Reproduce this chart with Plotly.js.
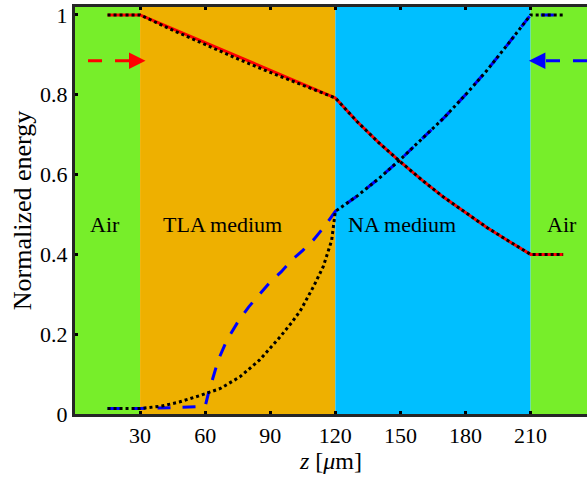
<!DOCTYPE html>
<html>
<head>
<meta charset="utf-8">
<script src="https://cdn.plot.ly/plotly-3.0.1.min.js"></script>
<style>html,body{margin:0;padding:0;background:#fff;}#chart{width:587px;height:479px;}</style>
</head>
<body>
<div id="chart"></div>
<script>
// ---- Data ----
// Media regions
var regionStart = [0, 30, 120, 210];
var regionEnd   = [30, 120, 210, 236];
var regionColor = ['#77EE2A', '#EEB000', '#00BFFF', '#77EE2A'];
var regionLabel = ['Air', 'TLA medium', 'NA medium', 'Air'];
var regionLabelZ = [13.8, 68, 150.5, 224.3];
var regionLabelY = [0.476, 0.476, 0.476, 0.476];

// Forward wave (red solid, simulation)
var zFwdSim = [15, 30, 60, 90, 120, 130, 140, 150, 160, 170, 180, 190, 200, 210, 225];
var eFwdSim = [1.0, 1.0, 0.931, 0.861, 0.792, 0.733, 0.68, 0.632, 0.586, 0.543, 0.505, 0.467, 0.433, 0.40, 0.40];

// Forward wave (black dotted, theory)
var zFwdTh = [15, 30, 45, 60, 75, 90, 105, 120, 130, 140, 150, 160, 170, 180, 190, 200, 210, 225];
var eFwdTh = [1.0, 1.0, 0.962, 0.925, 0.89, 0.856, 0.823, 0.792, 0.733, 0.68, 0.632, 0.586, 0.543, 0.505, 0.467, 0.433, 0.40, 0.40];

// Backward wave (blue dashed, simulation)
var zBwdSim = [15, 30, 45, 60, 61.4, 66, 70, 75, 80, 85, 90, 95, 100, 105, 110, 115, 120, 130, 140, 150, 160, 170, 180, 190, 200, 210, 225];
var eBwdSim = [0.014, 0.014, 0.016, 0.019, 0.05, 0.135, 0.185, 0.23, 0.268, 0.3, 0.331, 0.356, 0.386, 0.41, 0.437, 0.47, 0.508, 0.546, 0.59, 0.638, 0.69, 0.742, 0.8, 0.862, 0.93, 1.0, 1.0];

// Backward wave (black dotted, theory)
var zBwdTh = [15, 30, 40, 48, 58, 67, 76, 85, 94.5, 100, 104, 110, 114.4, 118.3, 120, 130, 140, 150, 160, 170, 180, 190, 200, 210, 225];
var eBwdTh = [0.0135, 0.0135, 0.02, 0.03, 0.047, 0.064, 0.093, 0.135, 0.193, 0.23, 0.26, 0.32, 0.369, 0.435, 0.508, 0.546, 0.59, 0.638, 0.69, 0.742, 0.8, 0.862, 0.93, 1.0, 1.0];

// Direction arrows
var arrowY = 0.885;
var arrowFwdLineZ = [6, 25];
var arrowFwdTipZ = 32.5, arrowFwdTailZ = 28;
var arrowBwdLineZ = [217.1, 240];
var arrowBwdTipZ = 209.2, arrowBwdTailZ = 214;

var xTicks = [30, 60, 90, 120, 150, 180, 210];

// ---- Build ----
var FONT = 'Liberation Serif';
var traces = [
  {x: zFwdSim, y: eFwdSim, mode: 'lines', line: {color: '#FF0000', width: 3}, hoverinfo: 'skip'},
  {x: zBwdSim, y: eBwdSim, mode: 'lines', line: {color: '#0000FF', width: 3, dash: '13px,12px'}, hoverinfo: 'skip'},
  {x: zFwdTh, y: eFwdTh, mode: 'lines', line: {color: '#000000', width: 3, dash: 'dot'}, hoverinfo: 'skip'},
  {x: zBwdTh, y: eBwdTh, mode: 'lines', line: {color: '#000000', width: 3, dash: 'dot'}, hoverinfo: 'skip'},
  {x: arrowFwdLineZ, y: [arrowY, arrowY], mode: 'lines', line: {color: '#FF0000', width: 3, dash: '14px,13px'}, hoverinfo: 'skip'},
  {x: arrowBwdLineZ, y: [arrowY, arrowY], mode: 'lines', line: {color: '#0000FF', width: 3, dash: '14px,13px'}, hoverinfo: 'skip'}
];

var shapes = regionStart.map(function(s, i) {
  return {type: 'rect', xref: 'x', yref: 'paper', x0: s, x1: regionEnd[i], y0: 0, y1: 1,
          fillcolor: regionColor[i], line: {width: 0}, layer: 'below'};
});

var annotations = regionLabel.map(function(t, i) {
  return {x: regionLabelZ[i], y: regionLabelY[i], xref: 'x', yref: 'y', text: t, showarrow: false,
          font: {family: FONT, size: 22, color: '#000'}};
});
annotations.push({x: arrowFwdTipZ, y: arrowY, ax: arrowFwdTailZ, ay: arrowY, xref: 'x', yref: 'y', axref: 'x', ayref: 'y',
  text: '', showarrow: true, arrowhead: 2, arrowsize: 1.1, arrowwidth: 3, arrowcolor: '#FF0000'});
annotations.push({x: arrowBwdTipZ, y: arrowY, ax: arrowBwdTailZ, ay: arrowY, xref: 'x', yref: 'y', axref: 'x', ayref: 'y',
  text: '', showarrow: true, arrowhead: 2, arrowsize: 1.1, arrowwidth: 3, arrowcolor: '#0000FF'});

var layout = {
  width: 587, height: 479, autosize: false,
  margin: {l: 75, r: 0, t: 7, b: 65, pad: 0},
  paper_bgcolor: '#fff', plot_bgcolor: '#fff',
  showlegend: false,
  font: {family: FONT, color: '#000'},
  xaxis: {
    range: [0, 236], tickvals: xTicks, ticktext: xTicks.map(String),
    ticks: 'inside', ticklen: 3, tickwidth: 3, tickcolor: '#000',
    showline: true, linecolor: '#262626', linewidth: 3, mirror: 'ticks',
    showgrid: false, zeroline: false,
    tickfont: {family: FONT, size: 22, color: '#000'},
    title: {text: '<i>z</i> [<i>μ</i>m]', font: {family: FONT, size: 24, color: '#000'}, standoff: 2}
  },
  yaxis: {
    range: [0, 1.02], tickvals: [0, 0.2, 0.4, 0.6, 0.8, 1], ticktext: ['0', '0.2', '0.4', '0.6', '0.8', '1'],
    ticks: 'inside', ticklen: 3, tickwidth: 3, tickcolor: '#000',
    showline: true, linecolor: '#262626', linewidth: 3, mirror: false,
    showgrid: false, zeroline: false,
    tickfont: {family: FONT, size: 22, color: '#000'},
    title: {text: 'Normalized energy', font: {family: FONT, size: 26, color: '#000'}, standoff: 1}
  },
  shapes: shapes,
  annotations: annotations
};

Plotly.newPlot('chart', traces, layout, {staticPlot: true, displayModeBar: false});
</script>
</body>
</html>
